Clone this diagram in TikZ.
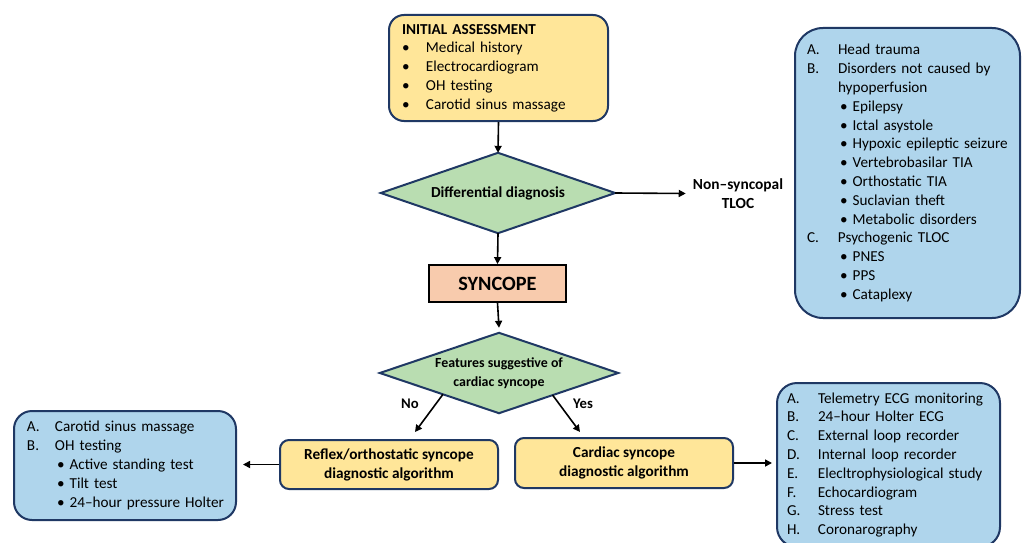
\documentclass[tikz,border=0pt]{standalone}
\usepackage{fontspec}
\setmainfont{Carlito}
\usetikzlibrary{arrows.meta,calc,backgrounds}
\definecolor{yel}{HTML}{FFE699}
\definecolor{grn}{HTML}{B9DDB1}
\definecolor{blu}{HTML}{AFD5EC}
\definecolor{sal}{HTML}{F8CBAD}
\definecolor{navy}{HTML}{1F3864}
\newcommand{\lab}[3]{\makebox[#1][l]{#2}\mbox{#3}}
\newcommand{\bul}[2]{\hspace*{#1}\mbox{•\ #2}}
\begin{document}
\begin{tikzpicture}[x=1pt,y=-1pt,
  box/.style={draw=navy, line width=2pt, align=left, inner ysep=0pt,
    font=\fontsize{15.2}{18.8}\selectfont},
  ybox/.style={box, fill=yel},
  bbox/.style={box, fill=blu},
  cbox/.style={draw=navy, line width=2pt, fill=yel, align=center, inner sep=0pt,
    rounded corners=9pt, font=\bfseries\fontsize{15.3}{19}\selectfont},
  diatext/.style={inner sep=0pt, align=center},
  diashape/.style={draw=navy, line width=2pt, fill=grn, line join=miter},
  arr/.style={-{Triangle[length=7pt,width=7pt]}, line width=1.6pt},
  lbl/.style={font=\bfseries\fontsize{15.4}{19}\selectfont, align=center, inner xsep=7pt}
]
\useasboundingbox (0,0) rectangle (1022,543);
\clip (0,0) rectangle (1022,543);

% Initial assessment
\node[ybox, rounded corners=15pt, inner xsep=13pt, text width=193pt, minimum height=106pt]
  (init) at (498.5,68) {\textbf{INITIAL ASSESSMENT}\\
  \lab{24pt}{•}{Medical history}\\
  \lab{24pt}{•}{Electrocardiogram}\\
  \lab{24pt}{•}{OH testing}\\
  \lab{24pt}{•}{Carotid sinus massage}};

% Differential diagnosis
\node[diatext, minimum width=234pt, minimum height=80pt, font=\bfseries\fontsize{15.3}{18}\selectfont]
  (dd) at (498,193) {Differential diagnosis};

\node[lbl] (nst) at (738,193.5) {Non–syncopal\\TLOC};

% Top right list
\node[bbox, rounded corners=28pt, inner xsep=12pt, text width=201pt, minimum height=290pt]
  (tr) at (907.5,173) {\lab{31pt}{A.}{Head trauma}\\
  \lab{31pt}{B.}{Disorders not caused by}\\
  \hspace*{31pt}\mbox{hypoperfusion}\\
  \bul{33pt}{Epilepsy}\\
  \bul{33pt}{Ictal asystole}\\
  \bul{33pt}{Hypoxic epileptic seizure}\\
  \bul{33pt}{Vertebrobasilar TIA}\\
  \bul{33pt}{Orthostatic TIA}\\
  \bul{33pt}{Suclavian theft}\\
  \bul{33pt}{Metabolic disorders}\\
  \lab{31pt}{C.}{Psychogenic TLOC}\\
  \bul{33pt}{PNES}\\
  \bul{33pt}{PPS}\\
  \bul{33pt}{Cataplexy}};

% Syncope
\node[draw=black, line width=1.8pt, fill=sal, minimum width=137pt, minimum height=37pt, inner sep=0pt,
  font=\bfseries\fontsize{20.3}{22}\selectfont] (syn) at (497.5,283.5) {SYNCOPE};

% Features diamond
\node[diatext, minimum width=238pt, minimum height=80pt, font=\bfseries\fontsize{13.9}{18.8}\selectfont]
  (feat) at (499,373) {Features suggestive of\\cardiac syncope};

% Algorithm boxes
\node[cbox, minimum width=218pt, minimum height=49pt] (reflex) at (389,464.5)
  {Reflex/orthostatic syncope\\diagnostic algorithm};
\node[cbox, minimum width=218pt, minimum height=50pt] (cardiac) at (624,463)
  {Cardiac syncope\\diagnostic algorithm};

% Bottom left list
\node[bbox, rounded corners=18pt, inner xsep=13pt, text width=196pt, minimum height=109pt]
  (lb) at (125,465.5) {\lab{28pt}{A.}{Carotid sinus massage}\\
  \lab{28pt}{B.}{OH testing}\\
  \bul{30pt}{Active standing test}\\
  \bul{30pt}{Tilt test}\\
  \bul{30pt}{24–hour pressure Holter}};

% Bottom right list
\node[bbox, rounded corners=20pt, inner xsep=10pt, text width=203pt, minimum height=164pt]
  (rb) at (888.5,465) {\lab{31pt}{A.}{Telemetry ECG monitoring}\\
  \lab{31pt}{B.}{24–hour Holter ECG}\\
  \lab{31pt}{C.}{External loop recorder}\\
  \lab{31pt}{D.}{Internal loop recorder}\\
  \lab{31pt}{E.}{Elecltrophysiological study}\\
  \lab{31pt}{F.}{Echocardiogram}\\
  \lab{31pt}{G.}{Stress test}\\
  \lab{31pt}{H.}{Coronarography}};

% Labels
\node[font=\bfseries\fontsize{14.7}{16}\selectfont] (no) at (410,404) {No};
\node[font=\bfseries\fontsize{14.7}{16}\selectfont] (yes) at (583,404) {Yes};

% Diamond shapes behind their texts
\begin{scope}[on background layer]
  \fill[white] (0,0) rectangle (1022,543);
  \filldraw[diashape] (dd.north) -- (dd.east) -- (dd.south) -- (dd.west) -- cycle;
  \filldraw[diashape] (feat.north) -- (feat.east) -- (feat.south) -- (feat.west) -- cycle;
\end{scope}

\coordinate (nostart) at ($(feat.west)!0.53!(feat.south)$);
\coordinate (yesstart) at ($(feat.east)!0.55!(feat.south)$);
\coordinate (noend) at (415,432);
\coordinate (yesend) at (580,432);

% Connectors
\draw[arr] (init.south) -- (dd.north);
\draw[arr] (dd.east) -- (nst.west);
\draw[arr] (dd.south) -- (syn.north);
\draw[arr] (syn.south) -- ([yshift=5pt]feat.north);
\draw[arr] (nostart) -- (noend);
\draw[arr] (yesstart) -- (yesend);
\draw[arr] (reflex.west) -- ($(reflex.west -| lb.east)+(6,0)$);
\draw[arr] (cardiac.east) -- ($(cardiac.east -| rb.west)+(-4,0)$);
\end{tikzpicture}
\end{document}
